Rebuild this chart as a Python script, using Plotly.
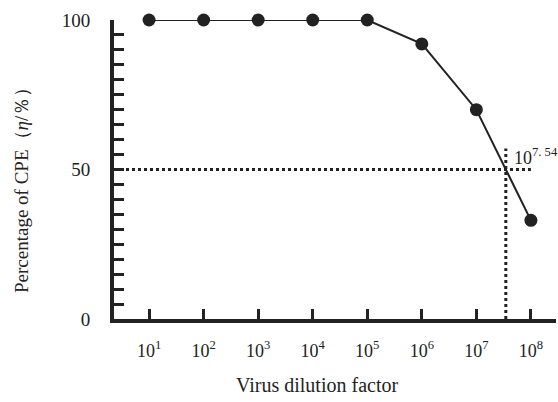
import plotly.graph_objects as go

exponents = [1, 2, 3, 4, 5, 6, 7, 8]
cpe_percent = [100, 100, 100, 100, 100, 92, 70, 33]
tick_labels = ["10<sup>%d</sup>" % e for e in exponents]
y_major_ticks = [0, 50, 100]
tcid50_exp = 7.54
half_level = 50

FONT = "Liberation Serif, Times New Roman, serif"
INK = "#222222"

fig = go.Figure()
fig.add_trace(go.Scatter(
    x=exponents, y=cpe_percent, mode="lines+markers",
    line=dict(color=INK, width=2),
    marker=dict(size=13, color=INK),
    cliponaxis=False, showlegend=False,
))

fig.add_shape(type="line", xref="x", yref="y",
              x0=0.357, x1=8.0, y0=half_level, y1=half_level,
              line=dict(color=INK, width=3, dash="dot"))
fig.add_shape(type="line", xref="x", yref="y",
              x0=tcid50_exp, x1=tcid50_exp, y0=0, y1=57,
              line=dict(color=INK, width=3, dash="dot"))
fig.add_annotation(x=tcid50_exp, y=half_level, xref="x", yref="y",
                   text="10<sup>7. 54</sup>", showarrow=False,
                   xanchor="left", yanchor="bottom", xshift=6, yshift=0,
                   font=dict(family=FONT, size=18, color=INK))
# axis titles
fig.add_annotation(x=-0.208, y=0.445, xref="paper", yref="paper",
                   text="Percentage of CPE（<i>η</i>/％）", showarrow=False,
                   textangle=-90, xanchor="center", yanchor="middle",
                   font=dict(family=FONT, size=19, color=INK))
fig.add_annotation(x=0.459, y=-0.221, xref="paper", yref="paper",
                   text="Virus dilution factor", showarrow=False,
                   xanchor="center", yanchor="middle",
                   font=dict(family=FONT, size=20, color=INK))

fig.update_layout(
    width=558, height=402,
    margin=dict(l=114, r=2, t=20, b=83),
    paper_bgcolor="white", plot_bgcolor="white",
    font=dict(family=FONT, size=18, color=INK),
    xaxis=dict(
        range=[0.357, 8.46], tickvals=exponents, ticktext=tick_labels,
        ticks="inside", ticklen=10, tickwidth=3, tickcolor=INK,
        showline=True, linewidth=4, linecolor=INK,
        showgrid=False, zeroline=False, automargin=False,
        tickfont=dict(family=FONT, size=18, color=INK),
        ticklabelstandoff=12,
    ),
    yaxis=dict(
        range=[0, 100], tickvals=y_major_ticks,
        ticks="inside", ticklen=10, tickwidth=3, tickcolor=INK,
        minor=dict(dtick=5, tick0=0, ticks="inside", ticklen=10,
                   tickwidth=3, tickcolor=INK, showgrid=False),
        showline=True, linewidth=4, linecolor=INK,
        showgrid=False, zeroline=False, automargin=False,
        tickfont=dict(family=FONT, size=19, color=INK),
        ticklabelstandoff=16,
    ),
)

fig.write_html("out.html", config={"displayModeBar": False},
               post_script="document.body.style.margin='0';")
